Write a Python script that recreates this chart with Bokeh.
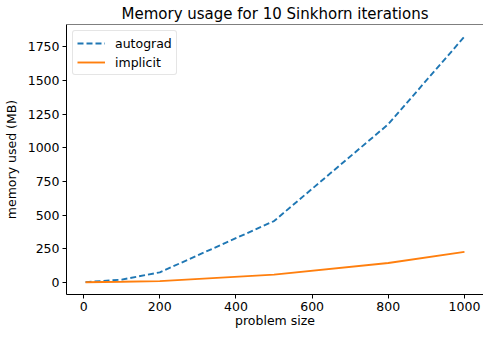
from bokeh.plotting import figure
from bokeh.models import Range1d, FixedTicker, Legend, LegendItem, Span
from bokeh.embed import file_html
from bokeh.resources import INLINE

# data
problem_size = [5, 100, 200, 500, 800, 1000]
autograd = [1, 20, 74, 455, 1175, 1826]
implicit = [0, 4, 9, 57, 143, 226]
x_ticks = [0, 200, 400, 600, 800, 1000]
y_ticks = [0, 250, 500, 750, 1000, 1250, 1500, 1750]

FONT = "DejaVu Sans"
Y_TOP = 1916

p = figure(width=483, height=330, output_backend="svg", toolbar_location=None,
           x_range=Range1d(-45, 1050), y_range=Range1d(-90.7, Y_TOP),
           min_border_left=61, min_border_right=0, min_border_top=18, min_border_bottom=0,
           title="Memory usage for 10 Sinkhorn iterations")

p.title.text_font = FONT
p.title.text_font_size = "15px"
p.title.text_font_style = "normal"
p.title.align = "center"
p.title.text_color = "black"
p.title.standoff = 4
p.title.offset = 0

p.xgrid.visible = False
p.ygrid.visible = False
p.outline_line_color = None

for ax in (p.xaxis[0], p.yaxis[0]):
    ax.major_label_text_font = FONT
    ax.major_label_text_font_size = "12.5px"
    ax.major_label_text_color = "black"
    ax.axis_label_text_font = FONT
    ax.axis_label_text_font_size = "12.5px"
    ax.axis_label_text_font_style = "normal"
    ax.axis_label_text_color = "black"
    ax.axis_line_color = "black"
    ax.major_tick_line_color = "black"
    ax.major_tick_out = 4
    ax.major_tick_in = 0
    ax.minor_tick_line_color = None
    ax.major_label_standoff = 3

p.xaxis.ticker = FixedTicker(ticks=x_ticks)
p.yaxis.ticker = FixedTicker(ticks=y_ticks)
p.xaxis.axis_label = "problem size"
p.yaxis.axis_label = "memory used (MB)"
p.xaxis.major_label_standoff = 3
p.xaxis.axis_label_standoff = -1
p.yaxis.axis_label_standoff = 6

# top spine
p.add_layout(Span(location=Y_TOP, dimension="width", line_color="black", line_width=1))

r1 = p.line(problem_size, autograd, line_color="#1f77b4", line_width=1.9, line_dash="6 3")
r2 = p.line(problem_size, implicit, line_color="#ff7f0e", line_width=1.9)

legend = Legend(items=[LegendItem(label="autograd", renderers=[r1]),
                       LegendItem(label="implicit", renderers=[r2])],
                location="top_left")
legend.margin = 6
legend.padding = 4
legend.spacing = 3
legend.glyph_width = 28
legend.glyph_height = 16
legend.label_height = 16
legend.label_standoff = 10
legend.label_text_font = FONT
legend.label_text_font_size = "12.5px"
legend.label_text_color = "black"
legend.border_line_color = "#cccccc"
legend.border_line_width = 1
legend.border_radius = 3
legend.background_fill_alpha = 0.8
p.add_layout(legend)

open("out.html", "w").write(file_html(p, INLINE))
